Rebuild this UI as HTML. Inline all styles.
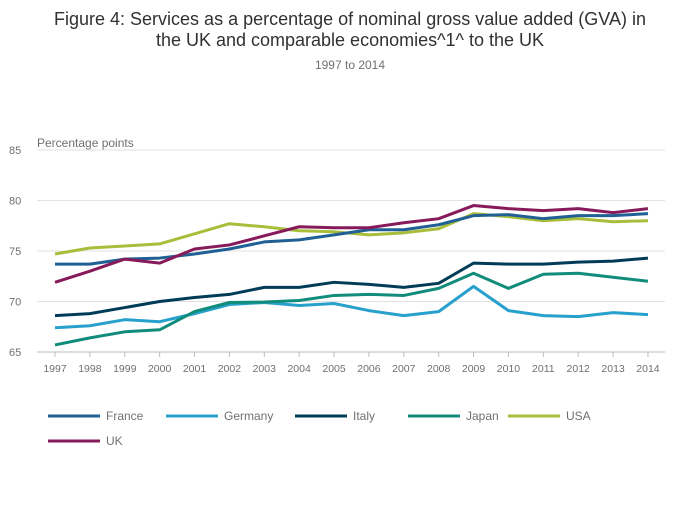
<!DOCTYPE html>
<html><head><meta charset="utf-8"><style>
body{margin:0;background:#fff;width:700px;height:502px;overflow:hidden;font-family:"Liberation Sans",sans-serif}
</style></head><body>
<svg width="700" height="502" xmlns="http://www.w3.org/2000/svg" font-family="Liberation Sans, sans-serif">
<text x="350" y="25" text-anchor="middle" font-size="18" fill="#323132">Figure 4: Services as a percentage of nominal gross value added (GVA) in</text>
<text x="350" y="46" text-anchor="middle" font-size="18" fill="#323132">the UK and comparable economies^1^ to the UK</text>
<text x="350" y="69" text-anchor="middle" font-size="12" fill="#707070">1997 to 2014</text>
<text x="37" y="147" font-size="12" fill="#707070">Percentage points</text>
<g id="g"></g>
</svg>
<script>
const svg=document.querySelector('svg'),ns='http://www.w3.org/2000/svg';
function el(t,a,txt){const e=document.createElementNS(ns,t);for(const k in a)e.setAttribute(k,a[k]);if(txt!=null)e.textContent=txt;svg.appendChild(e);return e;}
const Y=v=>352-(v-65)*10.1, X=i=>55+i*34.88;
for(const v of [65,70,75,80,85]){el('line',{x1:37,x2:665,y1:Y(v),y2:Y(v),stroke:v==65?'#bbb':'#e2e2e2','stroke-width':1});el('text',{x:9,y:Y(v)+4,'font-size':11,fill:'#707070'},v);}
for(let i=0;i<18;i++){el('line',{x1:X(i),x2:X(i),y1:352,y2:357,stroke:'#bbb'});el('text',{x:X(i),y:372,'font-size':10.5,fill:'#707070','text-anchor':'middle'},1997+i);}
const S=[
['Germany','#27a0cc',[67.4,67.6,68.2,68.0,68.8,69.7,69.9,69.6,69.8,69.1,68.6,69.0,71.5,69.1,68.6,68.5,68.9,68.7]],
['Japan','#118c7b',[65.7,66.4,67.0,67.2,69.0,69.9,69.95,70.1,70.6,70.7,70.6,71.3,72.8,71.3,72.7,72.8,72.4,72.0]],
['Italy','#003c57',[68.6,68.8,69.4,70.0,70.4,70.7,71.4,71.4,71.9,71.7,71.4,71.8,73.8,73.7,73.7,73.9,74.0,74.3]],
['USA','#a8bd3a',[74.7,75.3,75.5,75.7,76.7,77.7,77.4,77.0,76.9,76.6,76.8,77.2,78.7,78.4,78.0,78.2,77.9,78.0]],
['France','#206095',[73.7,73.7,74.2,74.3,74.7,75.2,75.9,76.1,76.6,77.1,77.1,77.6,78.5,78.6,78.2,78.5,78.5,78.7]],
['UK','#871a5b',[71.9,73.0,74.2,73.8,75.2,75.6,76.5,77.4,77.3,77.3,77.8,78.2,79.5,79.2,79.0,79.2,78.8,79.2]]];
for(const [n,c,d] of S)el('polyline',{points:d.map((v,i)=>X(i)+','+Y(v)).join(' '),fill:'none',stroke:c,'stroke-width':3,'stroke-linejoin':'round'});
const L=[['France','#206095',48,416],['Germany','#27a0cc',166,416],['Italy','#003c57',295,416],['Japan','#118c7b',408,416],['USA','#a8bd3a',508,416],['UK','#871a5b',48,441]];
for(const [n,c,x,y] of L){el('line',{x1:x,x2:x+52,y1:y,y2:y,stroke:c,'stroke-width':3});el('text',{x:x+58,y:y+4,'font-size':12,fill:'#707070'},n);}
</script>
</body></html>
